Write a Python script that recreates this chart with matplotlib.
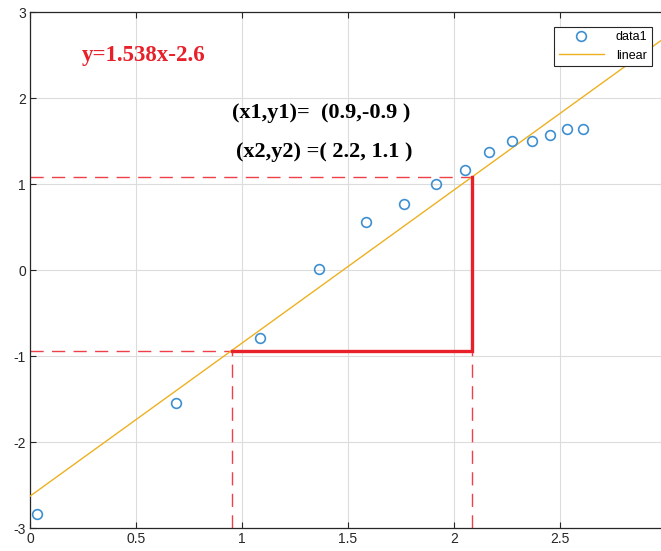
import matplotlib
matplotlib.use("Agg")
import matplotlib.pyplot as plt
import numpy as np

# data
x_data = [0.033, 0.689, 1.085, 1.363, 1.585, 1.764, 1.915, 2.052, 2.165, 2.274, 2.368, 2.453, 2.533, 2.608]
y_data = [-2.84, -1.55, -0.79, 0.01, 0.56, 0.77, 1.00, 1.16, 1.37, 1.50, 1.50, 1.57, 1.64, 1.64]
fit_slope = 1.78
fit_intercept = -2.63
p1 = (0.953, -0.94)
p2 = (2.085, 1.08)
x_ticks = [0, 0.5, 1, 1.5, 2, 2.5]
y_ticks = [-3, -2, -1, 0, 1, 2, 3]
x_lim = (0, 3.008)
y_lim = (-3, 3)

blue = "#3d8fd1"
yellow = "#EDB120"
red = "#e8202a"

fig = plt.figure(figsize=(6.61, 5.51), dpi=100)
ax = fig.add_axes([30/661, 23/551, 1.01 - 30/661, (528-12)/551])

xs = np.array(x_lim)
ax.plot(x_data, y_data, 'o', mfc='none', mec=blue, ms=7, mew=1.2, label='data1', zorder=4)
ax.plot(xs, fit_slope*xs + fit_intercept, color=yellow, lw=1.0, label='linear', zorder=3)

dash = dict(color='#ee4048', lw=1.0, dashes=(9.5, 6), zorder=2)
ax.plot([0, p1[0]], [p1[1], p1[1]], **dash)
ax.plot([p1[0], p1[0]], [y_lim[0], p1[1]], **dash)
ax.plot([0, p2[0]], [p2[1], p2[1]], **dash)
ax.plot([p2[0], p2[0]], [y_lim[0], p1[1]], **dash)
ax.plot([p1[0], p2[0], p2[0]], [p1[1], p1[1], p2[1]], color=red, lw=2.4, zorder=5,
        solid_joinstyle='miter')

ax.set_xlim(*x_lim)
ax.set_ylim(*y_lim)
ax.set_xticks(x_ticks)
ax.set_yticks(y_ticks)
ax.set_xticklabels([f"{t:g}" for t in x_ticks], fontfamily='Liberation Sans', fontsize=10, color='#262626')
ax.set_yticklabels([f"{t:g}" for t in y_ticks], fontfamily='Liberation Sans', fontsize=10, color='#262626')
ax.grid(True, color='#dcdcdc', lw=0.8)
ax.set_axisbelow(True)
ax.tick_params(direction='in', top=True, right=True, length=4, color='#262626', pad=3)
for s in ax.spines.values():
    s.set_color('#262626')
    s.set_linewidth(0.9)

serif = 'Liberation Serif'
ax.text((143.5-30)/212, (270-55)/86, 'y=1.538x-2.6', color=red, fontweight='bold',
        fontfamily=serif, fontsize=16.5, ha='center', va='center')
ax.text((232-30)/212, (270-113)/86, '(x1,y1)=  (0.9,-0.9 )', color='black', fontweight='bold',
        fontfamily=serif, fontsize=16, ha='left', va='center')
ax.text((236-30)/212, (270-152)/86, '(x2,y2) =( 2.2, 1.1 )', color='black', fontweight='bold',
        fontfamily=serif, fontsize=16, ha='left', va='center')

leg = ax.legend(loc='upper right', bbox_to_anchor=(652/661, (551-27)/551),
                bbox_transform=fig.transFigure, prop={'family': 'Liberation Sans', 'size': 9},
                fancybox=False, edgecolor='#262626', framealpha=1, borderpad=0.35,
                borderaxespad=0, handlelength=3.6, handletextpad=1.0, labelspacing=0.5)
leg.get_frame().set_linewidth(0.8)

fig.savefig('out.png', dpi=100)
